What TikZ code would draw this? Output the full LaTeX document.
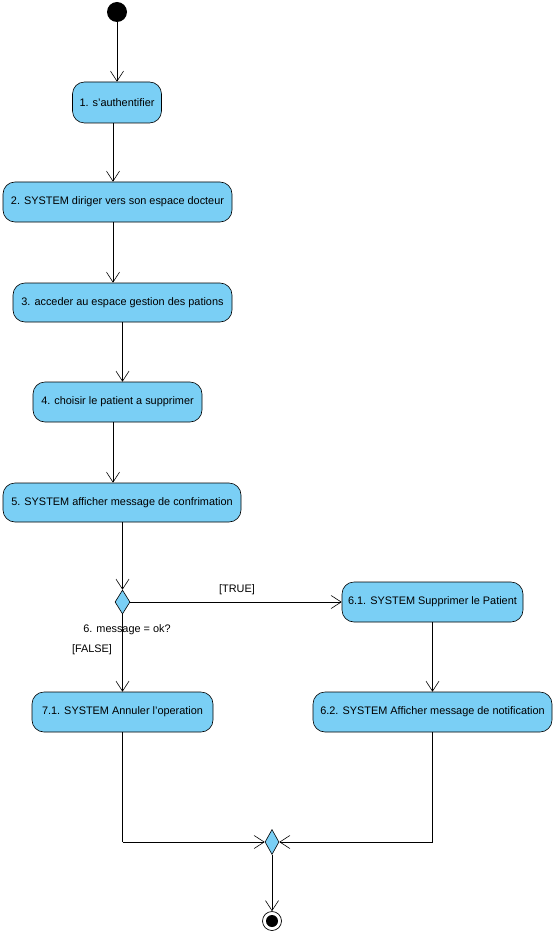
\documentclass[tikz,border=0pt]{standalone}
\usepackage{fontspec}
\setmainfont{Liberation Sans}
\usetikzlibrary{arrows.meta,shapes.geometric}
\definecolor{actblue}{RGB}{122,207,245}
\begin{document}
\begin{tikzpicture}[x=1pt,y=-1pt,
  act/.style={draw=black,fill=actblue,rounded corners=12pt,inner sep=0pt,font=\fontsize{10.9}{12}\selectfont,line width=0.6pt},
  dec/.style={draw=black,fill=actblue,diamond,inner sep=0pt,minimum width=15pt,minimum height=24pt,line width=0.6pt},
  arr/.style={draw=black,line width=0.6pt,-{Straight Barb[length=10pt,width=13pt,line width=0.6pt]}},
  ln/.style={draw=black,line width=0.6pt},
  lbl/.style={font=\fontsize{10.9}{12}\selectfont,inner sep=0pt}]
\useasboundingbox (0,0) rectangle (556,936);
\node[circle,fill=black,minimum size=20pt,inner sep=0pt] (start) at (117,12) {};
\node[act,minimum width=89pt,minimum height=41pt] (b1) at (117,102.5) {1. s'authentifier};
\node[act,minimum width=229pt,minimum height=40pt] (b2) at (117.5,202) {2. SYSTEM diriger vers son espace docteur};
\node[act,minimum width=219pt,minimum height=39pt] (b3) at (122.5,302.5) {3. acceder au espace gestion des pations};
\node[act,minimum width=169pt,minimum height=40pt] (b4) at (117.5,402) {4. choisir le patient a supprimer};
\node[act,minimum width=238pt,minimum height=39pt] (b5) at (122,502.5) {5. SYSTEM afficher message de confrimation};
\node[dec] (d1) at (122.5,602) {};
\node[act,minimum width=181pt,minimum height=40pt] (b61) at (432.5,602) {6.1. SYSTEM Supprimer le Patient};
\node[act,minimum width=181pt,minimum height=40pt] (b71) at (122.5,712) {7.1. SYSTEM Annuler l'operation};
\node[act,minimum width=239pt,minimum height=40pt] (b62) at (432.5,712) {6.2. SYSTEM Afficher message de notification};
\node[dec,minimum width=14pt,minimum height=25pt] (d2) at (272,842) {};
\node[circle,draw=black,line width=0.7pt,minimum size=19pt,inner sep=0pt] (end) at (272,921) {};
\node[circle,fill=black,minimum size=12pt,inner sep=0pt] (endin) at (end.center) {};
\coordinate (c71) at (b71.south |- d2);
\coordinate (c62) at (b62.south |- d2);
\node[lbl] (ltrue) at (237,590) {[TRUE]};
\node[lbl] (lmsg) at (127,630) {6. message = ok?};
\node[lbl] (lfalse) at (92,650) {[FALSE]};
\draw[arr] (start) -- (b1.north -| start);
\draw[arr] ([xshift=-4pt]b1.south) -- ([xshift=-4pt]b1.south |- b2.north);
\draw[arr] ([xshift=-4.5pt]b2.south) -- ([xshift=-4.5pt]b2.south |- b3.north);
\draw[arr] (b3.south) -- (b3.south |- b4.north);
\draw[arr] ([xshift=-4.5pt]b4.south) -- ([xshift=-4.5pt]b4.south |- b5.north);
\draw[arr] (b5.south -| d1) -- (d1.north);
\draw[arr] (d1.east) -- (b61.west);
\draw[arr] (d1.south) -- (b71.north);
\draw[arr] (b61.south) -- (b62.north);
\draw[ln] (b71.south) -- (c71);
\draw[arr] (c71) -- (d2.west);
\draw[ln] (b62.south) -- (c62);
\draw[arr] (c62) -- (d2.east);
\draw[arr] (d2.south) -- (end.north);
\end{tikzpicture}
\end{document}
